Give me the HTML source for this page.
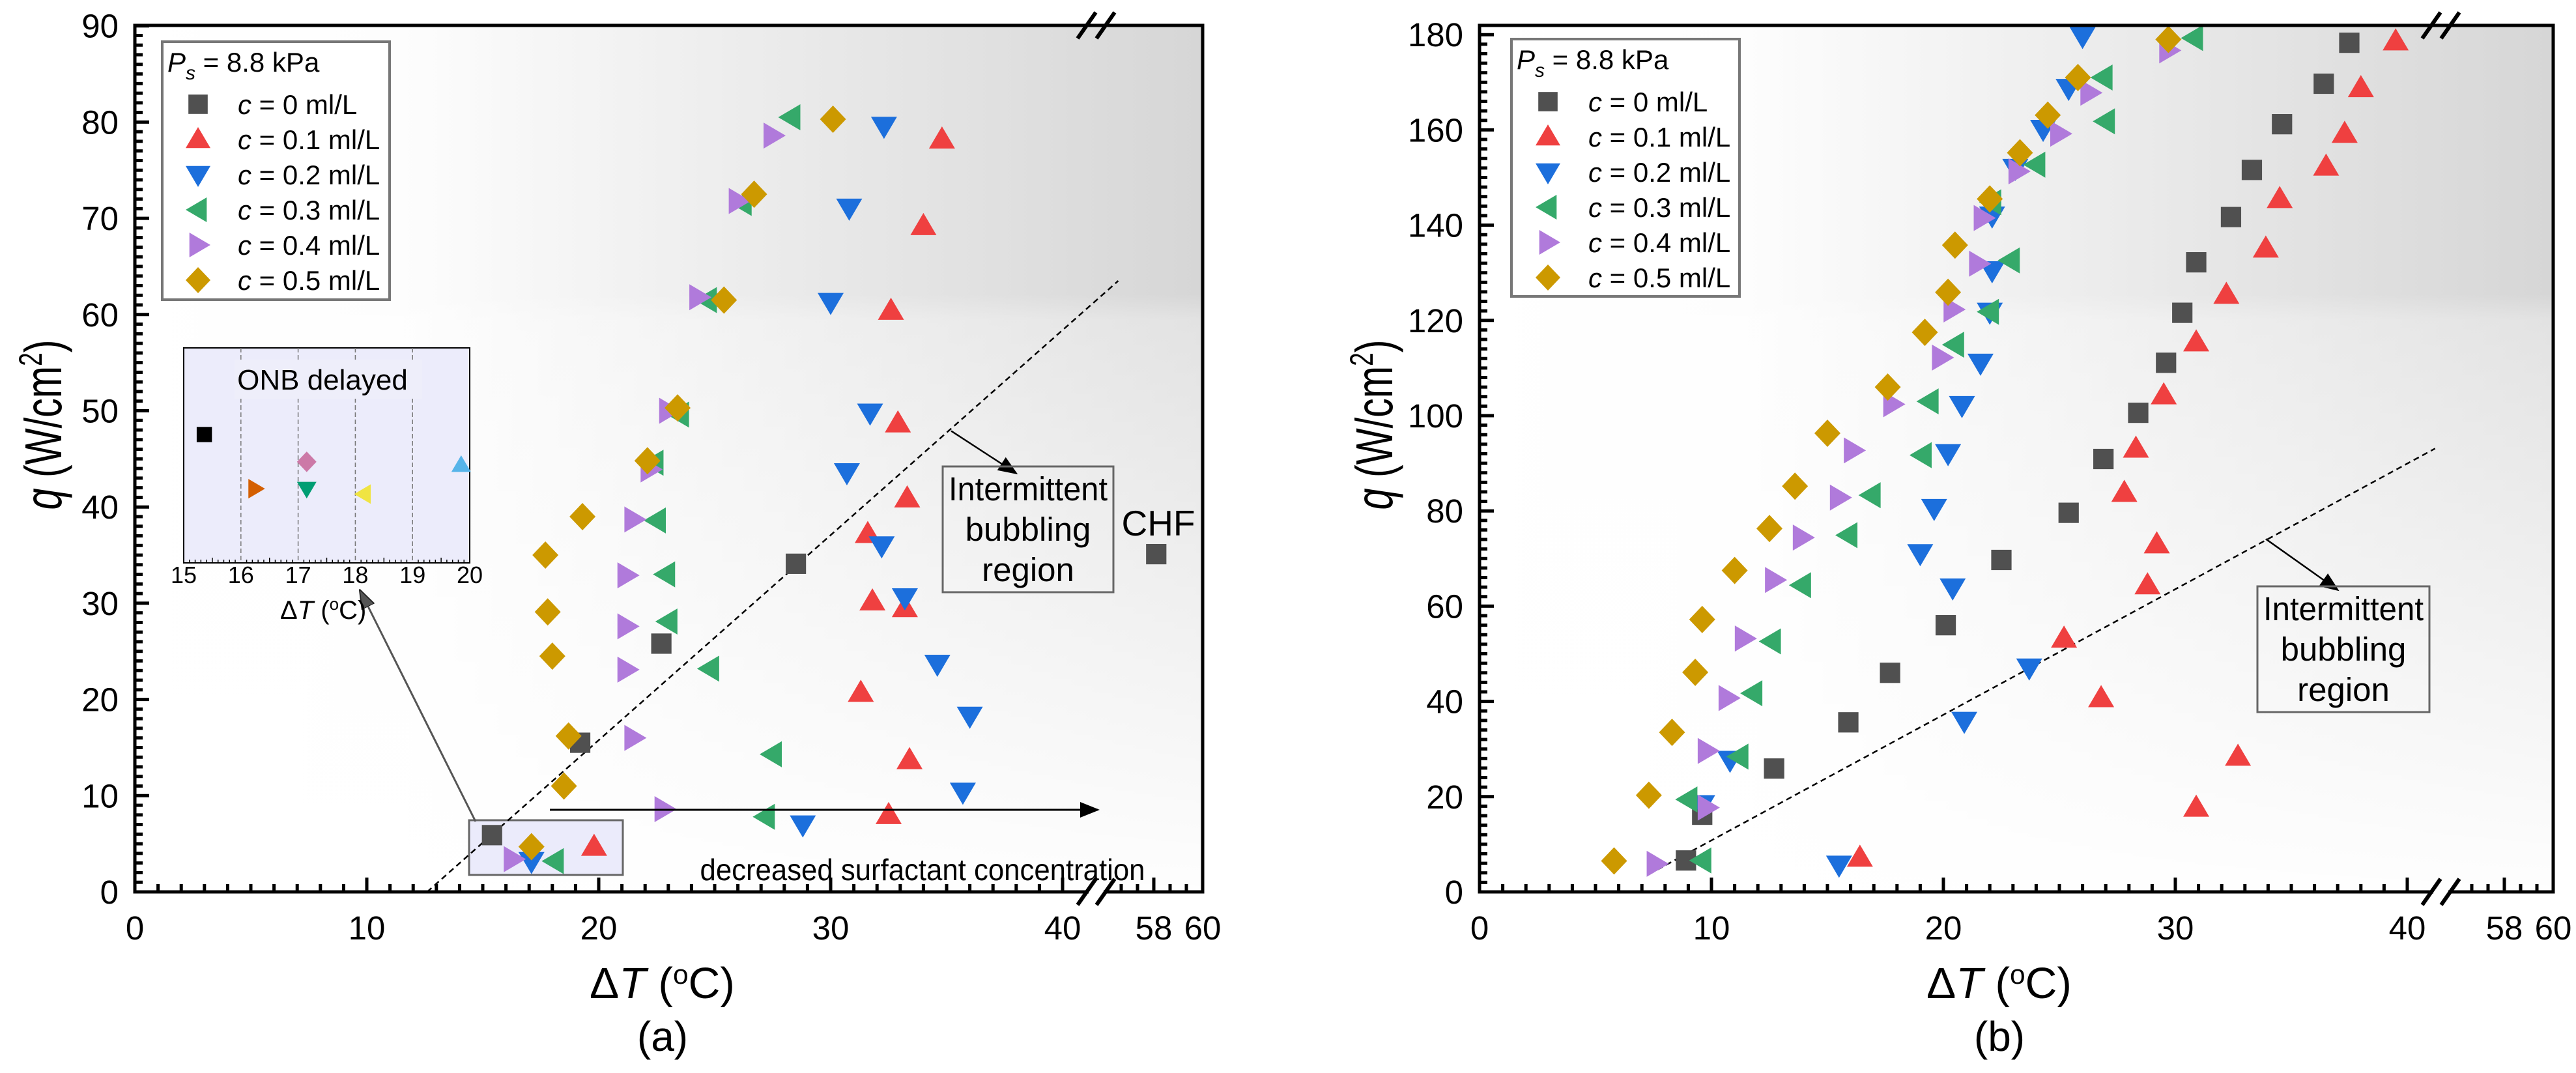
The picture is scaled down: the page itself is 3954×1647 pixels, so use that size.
<!DOCTYPE html>
<html><head><meta charset="utf-8"><style>html,body{margin:0;padding:0;background:#fff}svg{display:block}text{font-family:"Liberation Sans",sans-serif}</style></head>
<body>
<svg id="fig" xmlns="http://www.w3.org/2000/svg" width="3954" height="1647" viewBox="0 0 3954 1647">
<defs>
<linearGradient id="gh" x1="0" y1="0" x2="1" y2="0"><stop offset="0" stop-color="#fff"/><stop offset="0.25" stop-color="#fdfdfd"/><stop offset="1" stop-color="#d6d6d6"/></linearGradient>
<linearGradient id="gv" x1="0" y1="0" x2="0" y2="1"><stop offset="0" stop-color="#fff" stop-opacity="0"/><stop offset="0.31" stop-color="#fff" stop-opacity="0"/><stop offset="0.34" stop-color="#fff" stop-opacity="0.3"/><stop offset="1" stop-color="#fff" stop-opacity="0.97"/></linearGradient>
<marker id="ah2" viewBox="0 0 10 10" refX="9" refY="5" markerWidth="30" markerHeight="30" markerUnits="userSpaceOnUse" orient="auto"><path d="M0,1 L10,5 L0,9 z" fill="#000"/></marker>
<marker id="ahg" viewBox="0 0 10 10" refX="9" refY="5" markerWidth="30" markerHeight="30" markerUnits="userSpaceOnUse" orient="auto"><path d="M0,1.5 L10,5 L0,8.5 z" fill="#555" stroke="#222" stroke-width="0.6"/></marker>
</defs>
<g id="panelA"></g>
<g id="panelB"></g>
</svg>
<script>
// ---------- data panel (a) ----------
const seriesNames = ["c = 0 ml/L","c = 0.1 ml/L","c = 0.2 ml/L","c = 0.3 ml/L","c = 0.4 ml/L","c = 0.5 ml/L"];
const seriesColors = ["#505050","#ef4040","#1c6fdc","#35a96a","#b07adb","#cc9900"];
const seriesShapes = ["square","up","down","left","right","diamond"];
const a0x = [15.4,19.2,22.7,28.5,58.1];
const a0y = [5.9,15.5,25.8,34.1,35.1];
const a1x = [19.8,32.5,33.4,31.3,31.8,33.2,31.6,33.3,32.9,32.6,34.0,34.8];
const a1y = [4.7,8.0,13.7,20.7,30.2,29.5,37.2,40.9,48.7,60.4,69.2,78.2];
const a2x = [17.1,28.8,35.7,36.0,34.6,33.2,32.2,30.7,31.7,30.0,30.8,32.3];
const a2y = [3.2,7.0,10.4,18.3,23.7,30.6,36.0,43.6,49.8,61.3,71.1,79.6];
const a3x = [18.1,27.2,27.5,24.8,23.0,22.9,22.5,22.4,23.5,24.7,26.2,28.3];
const a3y = [3.2,7.8,14.3,23.2,28.1,33.0,38.6,44.6,49.6,61.5,71.6,80.5];
const a4x = [16.3,22.8,21.5,21.2,21.2,21.2,21.5,22.2,23.0,24.3,26.0,27.5];
const a4y = [3.4,8.6,16.0,23.1,27.6,32.9,38.7,43.9,50.0,61.8,71.8,78.6];
const a5x = [17.1,18.5,18.7,18.0,17.8,17.7,19.3,22.1,23.4,25.4,26.7,30.1];
const a5y = [4.7,11.0,16.2,24.5,29.1,35.0,39.0,44.8,50.3,61.5,72.5,80.3];
// ---------- data panel (b) ----------
const b0x = [8.9,9.6,12.7,15.9,17.7,20.1,22.5,25.4,26.9,28.4,29.6,30.3,30.9,32.4,33.3,34.6,36.4,37.5];
const b0y = [6.6,16.2,25.9,35.6,46.0,56.0,69.7,79.6,90.9,100.6,111.1,121.6,132.2,141.7,151.6,161.2,169.7,178.3];
const b1x = [16.4,30.9,32.7,26.8,25.2,28.8,29.2,27.8,28.3,29.5,30.9,32.2,33.9,34.5,36.5,37.3,38.0,39.5];
const b1y = [7.2,17.7,28.4,40.7,53.2,64.4,73.0,83.8,93.1,104.3,115.4,125.4,135.1,145.5,152.3,159.2,168.8,178.6];
const b2x = [15.5,9.6,10.8,20.9,23.7,20.4,19.0,19.6,20.2,20.8,21.6,22.0,22.1,22.1,23.1,24.3,25.4,26.0];
const b2y = [5.7,18.4,27.7,35.9,47.1,63.9,71.1,80.6,92.1,102.2,111.1,121.8,130.5,142.0,152.0,160.2,168.8,179.7];
const b3x = [9.6,9.0,11.2,11.8,12.6,13.9,15.9,16.9,19.1,19.4,20.5,22.0,22.9,22.1,24.0,27.0,26.9,30.8];
const b3y = [6.6,19.4,28.4,41.7,52.6,64.4,74.9,83.3,91.7,103.0,114.9,121.8,132.6,144.8,152.7,161.8,171.0,179.3];
const b4x = [7.6,9.8,9.8,10.7,11.4,12.7,13.9,15.5,16.1,17.8,19.9,20.4,21.5,21.7,23.2,25.0,26.3,29.7];
const b4y = [5.9,17.7,29.6,40.7,53.2,65.5,74.4,82.8,92.7,102.4,112.2,122.3,131.9,141.5,151.3,159.2,167.8,176.7];
const b5x = [5.8,7.3,8.3,9.3,9.6,11.0,12.5,13.6,15.0,17.6,19.2,20.2,20.5,22.0,23.3,24.5,25.8,29.7];
const b5y = [6.5,20.3,33.5,46.1,57.2,67.5,76.3,85.2,96.3,106.0,117.5,125.9,135.8,145.5,155.2,163.1,171.0,179.0];
// inset (ONB delayed)
const insetX = [15.36,16.25,17.15,17.15,18.15,19.85];
const insetY = [5.97,3.45,4.70,3.45,3.20,4.55];
const insetShapes = ["square","right","diamond","down","left","up"];
const insetColors = ["#000000","#d45f00","#cc79a7","#009e73","#f0e442","#56b4e9"];
const insetTicks = [15,16,17,18,19,20];
// axis ticks
const xTicksLow = [0,10,20,30,40];
const xTicksHigh = [58,60];
const yTicksA = [0,10,20,30,40,50,60,70,80,90];
const yTicksB = [0,20,40,60,80,100,120,140,160,180];

const NS = "http://www.w3.org/2000/svg";
function el(parent, tag, attrs, txt){const e=document.createElementNS(NS,tag);for(const k in attrs)e.setAttribute(k,attrs[k]);if(txt!==undefined)e.textContent=txt;parent.appendChild(e);return e;}

function marker(g, shape, cx, cy, color, s){
  let e;
  const h=s, t=s*0.7;
  if(shape==="square") e=el(g,"rect",{x:cx-s*0.78,y:cy-s*0.78,width:s*1.56,height:s*1.56,fill:color});
  else if(shape==="up") e=el(g,"polygon",{points:`${cx},${cy-h} ${cx-h},${cy+t} ${cx+h},${cy+t}`,fill:color});
  else if(shape==="down") e=el(g,"polygon",{points:`${cx-h},${cy-t} ${cx+h},${cy-t} ${cx},${cy+h}`,fill:color});
  else if(shape==="left") e=el(g,"polygon",{points:`${cx-h},${cy} ${cx+t},${cy-h} ${cx+t},${cy+h}`,fill:color});
  else if(shape==="right") e=el(g,"polygon",{points:`${cx+h},${cy} ${cx-t},${cy-h} ${cx-t},${cy+h}`,fill:color});
  else e=el(g,"polygon",{points:`${cx},${cy-h*1.05} ${cx+h},${cy} ${cx},${cy+h*1.05} ${cx-h},${cy}`,fill:color});
  return e;
}

function buildPanel(cfg){
  const g=document.getElementById(cfg.id);
  const L=cfg.left,R=cfg.right,T=39,B=1369;
  const X=v=> v<=45 ? L+v*35.6 : R-(60-v)*37.5;
  const Y=v=> B-v*cfg.ys;
  const bg=el(g,"rect",{x:L,y:T,width:R-L,height:B-T,fill:"url(#gh)"});
  
  
  const bg2=el(g,"rect",{x:L,y:T,width:R-L,height:B-T,fill:"url(#gv)"});
  
  
  if(cfg.underlay) cfg.underlay(g);
  const dl=el(g,"line",{x1:X(cfg.dash[0]),y1:Y(cfg.dash[1]),x2:X(cfg.dash[2]),y2:Y(cfg.dash[3]),stroke:"#000","stroke-width":2.5,"stroke-dasharray":"9,6"});
  
  
  const xs=cfg.xs, ysd=cfg.yd;
  for(let s=0;s<6;s++){
    const sg=el(g,"g",{});
    
    
    for(let i=0;i<xs[s].length;i++){
      const m=marker(sg,seriesShapes[s],X(xs[s][i]),Y(ysd[s][i]),seriesColors[s],20);
      
      
    }
  }
  const fr=el(g,"rect",{x:L,y:T,width:R-L,height:B-T,fill:"none",stroke:"#000","stroke-width":5});
  
  
  const tg=el(g,"g",{stroke:"#000","stroke-width":5});
  
  
  for(let v=1;v<=40;v++){const x=X(v);const len=v%10===0?22:12;el(tg,"line",{x1:x,y1:B,x2:x,y2:B-len});}
  for(let k=0;k<5;k++){const v=56.6667+k*0.66667;const x=X(v);const len=Math.abs(v-58)<0.01?22:12;el(tg,"line",{x1:x,y1:B,x2:x,y2:B-len});}
  const yg=el(g,"g",{stroke:"#000","stroke-width":5});
  
  
  const ymax=cfg.yTicks[cfg.yTicks.length-1];
  for(let v=cfg.ystep;v<=ymax;v+=cfg.ystep){const y=Y(v);const len=(Math.round(v/cfg.ystep)%(cfg.yTicks[1]/cfg.ystep)===0)?22:12;el(yg,"line",{x1:L,y1:y,x2:L+len,y2:y});}
  const gap=el(g,"polygon",{points:`${cfg.brk1+3},${B-3} ${cfg.brk2-3},${B-3} ${cfg.brk2-3},${B+3} ${cfg.brk1+3},${B+3}`,fill:"#fff"});
  
  
  [cfg.brk1,cfg.brk2].forEach(bx=>{
    [B,T].forEach(by=>{
      const w=el(g,"line",{x1:bx-14,y1:by+20,x2:bx+14,y2:by-20,stroke:"#000","stroke-width":6});
      
      
    });
  });
  xTicksLow.concat(xTicksHigh).forEach(v=>{
    const t=el(g,"text",{x:X(v),y:1442,"font-size":51,"text-anchor":"middle"},String(v));
    
    
  });
  cfg.yTicks.forEach(v=>{
    const t=el(g,"text",{x:L-25,y:Y(v)+18,"font-size":51,"text-anchor":"end"},String(v));
    
    
  });
  const xt=el(g,"text",{x:cfg.xtitleX,y:1532,"font-size":67,textLength:223,lengthAdjust:"spacingAndGlyphs"});
  
  
  xt.innerHTML='Δ<tspan font-style="italic">T</tspan> (<tspan dy="-22" font-size="42">o</tspan><tspan dy="22">C)</tspan>';
  const yt=el(g,"text",{x:0,y:0,"font-size":80,"text-anchor":"middle",transform:`translate(${cfg.ytitleX},652) rotate(-90)`,textLength:261,lengthAdjust:"spacingAndGlyphs"});
  
  
  yt.innerHTML='<tspan font-style="italic">q</tspan> (W/cm<tspan dy="-30" font-size="50">2</tspan><tspan dy="30">)</tspan>';
  const pl=el(g,"text",{x:cfg.xtitleX+112,y:1613,"font-size":64,"text-anchor":"middle"},cfg.label);
  
  
  const lg=el(g,"g",{});
  
  
  const lb=el(lg,"rect",{x:cfg.leg[0],y:cfg.leg[1],width:cfg.leg[2],height:cfg.leg[3],fill:"#fff",stroke:"#777","stroke-width":4});
  
  
  const ps=el(lg,"text",{x:cfg.leg[0]+8,y:cfg.leg[1]+46,"font-size":42});
  
  
  ps.innerHTML='<tspan font-style="italic">P</tspan><tspan dy="12" font-size="30" font-style="italic">s</tspan><tspan dy="-12"> = 8.8 kPa</tspan>';
  for(let s=0;s<6;s++){
    const cy=cfg.leg[1]+96+s*54;
    const m=marker(lg,seriesShapes[s],cfg.legMx,cy,seriesColors[s],19);
    
    
    const t=el(lg,"text",{x:cfg.legTx,y:cy+15,"font-size":42});
    
    
    const p=seriesNames[s].split(" = ");
    t.innerHTML='<tspan font-style="italic">c</tspan> = '+p[1];
  }
  const ar=el(g,"line",{x1:X(cfg.arrow[0]),y1:Y(cfg.arrow[1]),x2:X(cfg.arrow[2]),y2:Y(cfg.arrow[3]),stroke:"#000","stroke-width":2.5,"marker-end":"url(#ah2)"});
  
  
  const rb=el(g,"rect",{x:cfg.box[0],y:cfg.box[1],width:cfg.box[2],height:cfg.box[3],fill:"none",stroke:"#666","stroke-width":3});
  
  
  const cx=cfg.box[0]+cfg.box[2]/2;
  ["Intermittent","bubbling","region"].forEach((w,i)=>{
    const attrs={x:cx,y:cfg.box[1]+52+i*62,"font-size":51,"text-anchor":"middle"};
    if(i===0){attrs.textLength=cfg.box[2]-18;attrs.lengthAdjust="spacingAndGlyphs";}
    const t=el(g,"text",attrs,w);
    
    
  });
  return {X,Y,g};
}

const A=buildPanel({id:"panelA",left:207,right:1846,ys:14.77,ystep:1,yTicks:yTicksA,brk1:1668,brk2:1697,
  xs:[a0x,a1x,a2x,a3x,a4x,a5x],yd:[a0y,a1y,a2y,a3y,a4y,a5y],dash:[12.6,0,42.4,63.5],
  xtitleX:905,ytitleX:94,label:"(a)",leg:[249,64,349,396],legMx:304,legTx:365,
  arrow:[35.2,47.9,38.0,43.5],box:[1447,716,262,193],
  underlay:function(g){
    const hb=el(g,"rect",{x:720,y:1259,width:236,height:84,fill:"#ebebfb",stroke:"#666","stroke-width":3});
    
    
  }});
const Bp=buildPanel({id:"panelB",left:2271,right:3919,ys:7.31,ystep:2,yTicks:yTicksB,brk1:3732,brk2:3761,
  xs:[b0x,b1x,b2x,b3x,b4x,b5x],yd:[b0y,b1y,b2y,b3y,b4y,b5y],dash:[7.3,3.7,41.2,93.1],
  xtitleX:2957,ytitleX:2137,label:"(b)",leg:[2320,60,350,395],legMx:2376,legTx:2438,
  arrow:[33.9,74.1,37.0,63.4],box:[3465,900,264,193]});

// panel (a) extras
(function(){
  const g=A.g;
  const chf=el(g,"text",{x:1778,y:822,"font-size":55,"text-anchor":"middle"},"CHF");
  
  
  const ar=el(g,"line",{x1:844,y1:1243,x2:1685,y2:1243,stroke:"#000","stroke-width":3,"marker-end":"url(#ah2)"});
  
  
  const dt=el(g,"text",{x:1416,y:1351,"font-size":46,"text-anchor":"middle",textLength:683,lengthAdjust:"spacingAndGlyphs"},"decreased surfactant concentration");
  
  
  const cl=el(g,"line",{x1:730,y1:1261,x2:553,y2:907,stroke:"#555","stroke-width":3,"marker-end":"url(#ahg)"});
  
  
  const ig=el(g,"g",{});
  
  
  const IL=282,IR=721,IT=534,IB=864;
  const IX=v=>IL+(v-15)*(IR-IL)/5;
  const IY=v=>IB-v*33;
  const ib=el(ig,"rect",{x:IL,y:IT,width:IR-IL,height:IB-IT,fill:"#ececfb",stroke:"#000","stroke-width":2});
  
  
  insetTicks.forEach(v=>{
    if(v>15&&v<20){const gl=el(ig,"line",{x1:IX(v),y1:IT,x2:IX(v),y2:IB,stroke:"#777","stroke-width":1.5,"stroke-dasharray":"7,4"});
      
      }
    const t=el(ig,"text",{x:IX(v),y:895,"font-size":36,"text-anchor":"middle"},String(v));
    
    
  });
  for(let v=15.1;v<20;v+=0.1){const big=Math.abs(v-Math.round(v))<0.01;if(big)continue;const half=Math.abs(v*2-Math.round(v*2))<0.01;
    el(ig,"line",{x1:IX(v),y1:IB,x2:IX(v),y2:IB-(half?8:5),stroke:"#000","stroke-width":1.5});}
  const ob=el(ig,"rect",{x:360,y:552,width:288,height:60,fill:"#eeeefa"});
  
  
  const ot=el(ig,"text",{x:495,y:598,"font-size":44,"text-anchor":"middle"},"ONB delayed");
  
  
  for(let i=0;i<insetX.length;i++){
    const m=marker(ig,insetShapes[i],IX(insetX[i]),IY(insetY[i]),insetColors[i],15);
    
    
  }
  const ix=el(ig,"text",{x:430,y:950,"font-size":40});
  
  
  ix.innerHTML='Δ<tspan font-style="italic">T</tspan> (<tspan dy="-14" font-size="26">o</tspan><tspan dy="14">C)</tspan>';
})();
</script>
</body></html>
